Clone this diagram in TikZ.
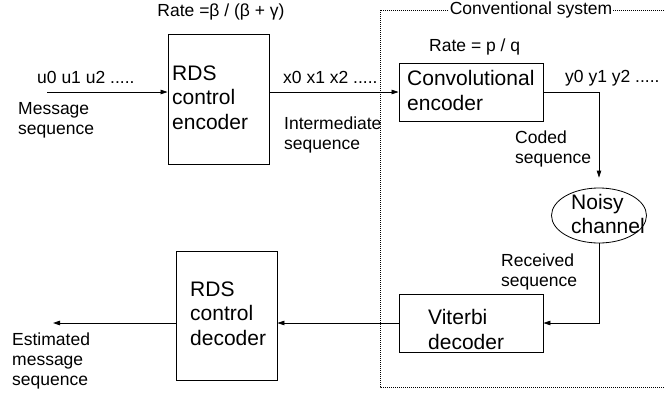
\documentclass[tikz,border=0pt]{standalone}
\usepackage{fontspec}
\setmainfont{Liberation Sans}
\usetikzlibrary{arrows.meta,shapes.geometric}
\begin{document}
\begin{tikzpicture}[x=1pt,y=-1pt,
  lbl/.style={inner sep=0pt, align=left, font=\fontsize{17.5}{20}\selectfont},
  btxt/.style={inner sep=0pt, align=left, font=\fontsize{21}{24.5}\selectfont},
  blk/.style={draw, line width=0.9pt, inner sep=0pt},
  conn/.style={line width=0.8pt},
  arr/.style={conn, -{Triangle[length=7pt,width=4.5pt]}},
  sysbox/.style={line width=0.7pt, dash pattern=on 1pt off 1pt}]
\useasboundingbox (0,0) rectangle (665,394);
% conventional system frame
\draw[sysbox] (668,10) -- (380,10) -- (380,387) -- (668,387);
\node[lbl, fill=white, inner xsep=1pt, inner ysep=2pt] (sys) at (531,10) {Conventional system};
% blocks
\node[blk, minimum width=101, minimum height=130] (rdse) at (218.5,99) {};
\node[btxt, anchor=west] (rdseT) at (172,97.5) {RDS\\control\\encoder};
\node[blk, minimum width=144, minimum height=58] (conv) at (471,92) {};
\node[btxt, anchor=west] (convT) at (407,90.5) {Convolutional\\encoder};
\node[draw, ellipse, line width=0.8pt, minimum width=95, minimum height=55, inner sep=0pt] (noisy) at (599,215.5) {};
\node[btxt, anchor=west] (noisyT) at (571,214) {Noisy\\channel};
\node[blk, minimum width=144, minimum height=58] (vit) at (471,323) {};
\node[btxt, anchor=west] (vitT) at (428,329.5) {Viterbi\\decoder};
\node[blk, minimum width=101, minimum height=129] (rdsd) at (226.5,315.5) {};
\node[btxt, anchor=west] (rdsdT) at (190,313.5) {RDS\\control\\decoder};
% labels
\node[lbl] (rate1) at (221,12) {Rate =β / (β + γ)};
\node[lbl, anchor=west] (u) at (37,77) {u0 u1 u2 .....};
\node[lbl, anchor=west] (msg) at (18,120.5) {Message\\sequence};
\node[lbl, anchor=west] (x) at (283,77) {x0 x1 x2 .....};
\node[lbl, anchor=west] (inter) at (284,135) {Intermediate\\sequence};
\node[lbl, anchor=west] (rate2) at (429,47) {Rate = p / q};
\node[lbl, anchor=west] (y) at (565,78) {y0 y1 y2 .....};
\node[lbl, anchor=west] (coded) at (515,149) {Coded\\sequence};
\node[lbl, anchor=west] (recv) at (501,271.5) {Received\\sequence};
\node[lbl, anchor=west] (est) at (12,361) {Estimated\\message\\sequence};
% connectors
\coordinate (in) at (47,92);
\coordinate (out) at (53,323);
\draw[arr] (in) -- (rdse.west |- in);
\draw[arr] (rdse.east |- conv.west) -- (conv.west);
\draw[arr, shorten >=10pt] (conv.east) -| (noisy.north);
\draw[arr] (noisy.south) |- (vit.east);
\draw[arr] (vit.west) -- (vit.west -| rdsd.east);
\draw[arr] (rdsd.west |- vit.west) -- (out);
\end{tikzpicture}
\end{document}
